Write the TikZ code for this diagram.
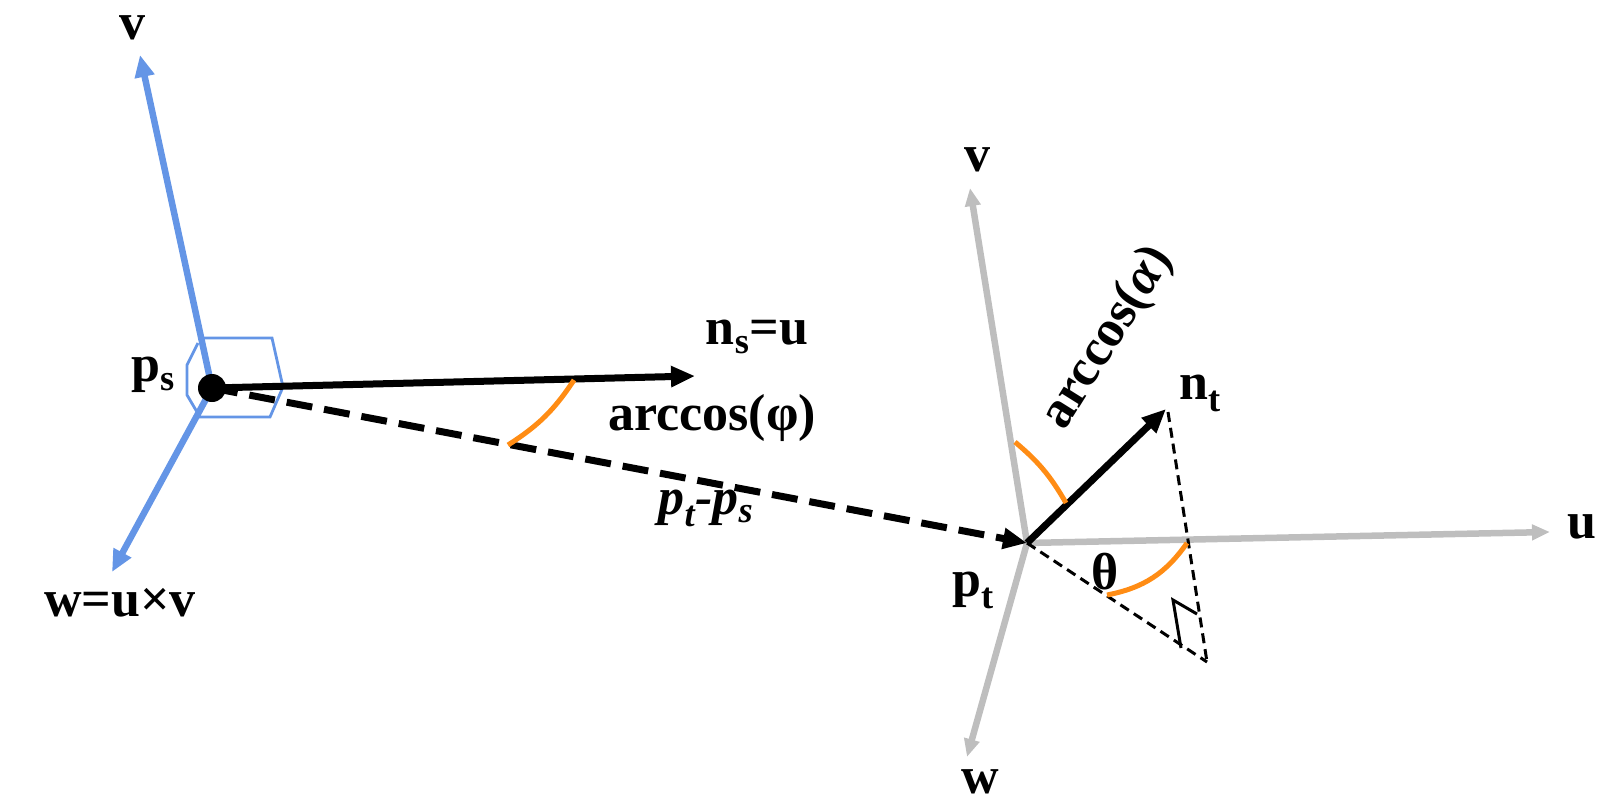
\documentclass[tikz,border=0pt]{standalone}
\usepackage{fontspec}
\setmainfont{Liberation Serif}
\usetikzlibrary{arrows.meta}
\begin{document}
\begin{tikzpicture}[x=1pt,y=-1pt,
  blueax/.style={line width=6.5pt,draw={rgb,255:red,100;green,149;blue,230},-{Triangle[length=22pt,width=19pt]}},
  grayax/.style={line width=6.5pt,draw={rgb,255:red,190;green,190;blue,190},-{Triangle[length=18pt,width=15pt]}},
  blk/.style={line width=7pt,-{Triangle[length=24pt,width=20pt]}},
  orng/.style={line width=5pt,draw={rgb,255:red,255;green,140;blue,20}},
  lbl/.style={font=\bfseries\fontsize{52}{52}\selectfont,inner sep=0pt}]
\useasboundingbox (0,0) rectangle (1607,811);
\coordinate (ps) at (212,388);
\coordinate (pt) at (1027,543);
\coordinate (vs) at (140,55);
\coordinate (ws) at (112,572);
\coordinate (ns) at (695,376);
\coordinate (ut) at (1550,532);
\coordinate (vt) at (970,188);
\coordinate (wt) at (967,757);
\coordinate (nt) at (1166,409);
\coordinate (nt2) at (1168,412);
\coordinate (ft) at (1207,662);
% blue frame
\draw[blueax] (ps) -- (vs);
\draw[blueax] (ps) -- (ws);
\draw[line width=2.8pt,draw={rgb,255:red,100;green,149;blue,230}] (203,338)--(272,338)--(283,387)--(270,417)--(200,417)--(187,395)--(187,365)--(198,343);
% gray frame
\draw[grayax] (pt) -- (ut);
\draw[grayax] (pt) -- (vt);
\draw[grayax] (pt) -- (wt);
% black
\draw[blk] (ps) -- (ns);
\draw[blk,dash pattern=on 26pt off 12pt] (ps) -- (pt);
\draw[blk] (pt) -- (nt);
\fill (ps) circle (14pt);
\draw[dash pattern=on 10pt off 6pt,line width=3pt] (nt2) -- (ft);
\draw[dash pattern=on 10pt off 6pt,line width=3pt] (pt) -- (ft);
\draw[line width=3pt] (1181,648) -- (1173,600) -- (1197,614);
% arcs
\draw[orng] (574,380) to[bend left=12] (508,445);
\draw[orng] (1015,442) to[bend left=10] (1066,503);
\draw[orng] (1187,543) to[bend left=22] (1107,595);
% labels
\node[lbl] (lv1) at (132,28) {v};
\node[lbl] (lw1) at (120,603) {w=u×v};
\node[lbl] (lps) at (153,375) {p\textsubscript{s}};
\node[lbl] (lns) at (757,337) {n\textsubscript{s}=u};
\node[lbl] (lphi) at (712,418) {arccos(φ)};
\node[lbl] (lpts) at (706,508) {\itshape p\textsubscript{t}-p\textsubscript{s}};
\node[lbl] (lv2) at (977,160) {v};
\node[lbl] (lu2) at (1582,527) {u};
\node[lbl] (lw2) at (980,782) {w};
\node[lbl] (lpt) at (973,590) {p\textsubscript{t}};
\node[lbl] (lnt) at (1200,393) {n\textsubscript{t}};
\node[lbl] (lth) at (1105,572) {θ};
\node[lbl,rotate=58] (lal) at (1108,338) {arccos(\textit{α})};
\end{tikzpicture}
\end{document}
